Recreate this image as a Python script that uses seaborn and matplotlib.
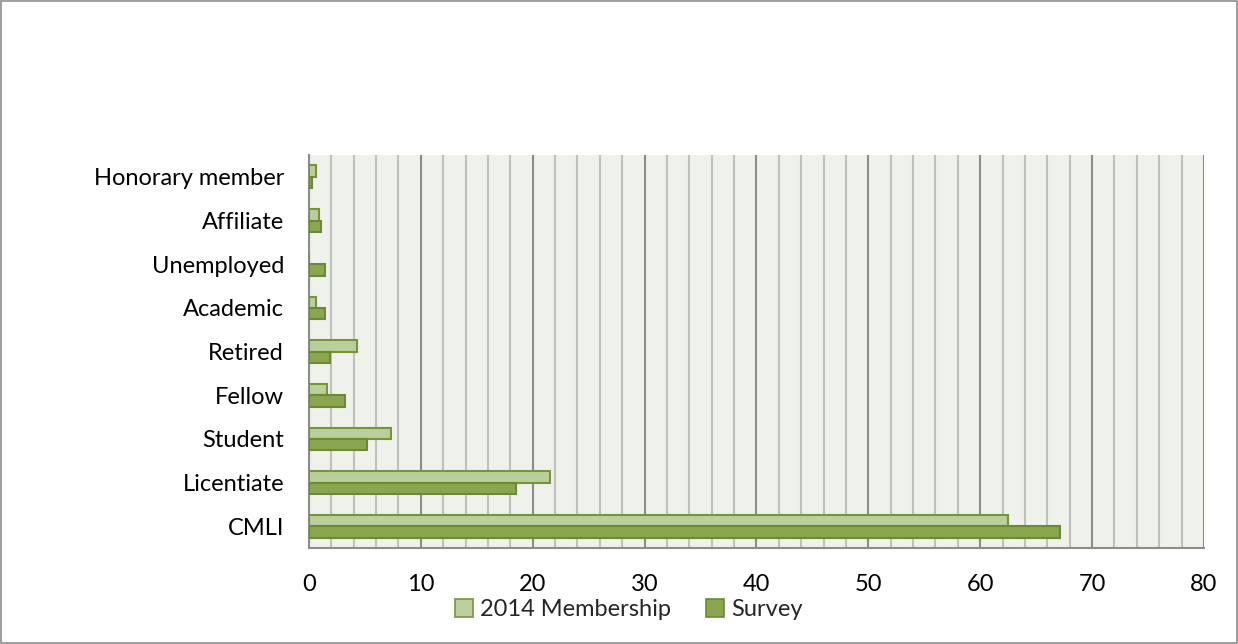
import matplotlib
matplotlib.use("Agg")
import matplotlib.pyplot as plt
import seaborn as sns
import pandas as pd
from matplotlib.ticker import MultipleLocator
from matplotlib.patches import Patch, Rectangle

categories = ["Honorary member", "Affiliate", "Unemployed", "Academic", "Retired",
              "Fellow", "Student", "Licentiate", "CMLI"]
membership_2014 = [0.6, 0.9, 0.0, 0.6, 4.3, 1.6, 7.3, 21.5, 62.5]
survey = [0.3, 1.1, 1.4, 1.4, 1.9, 3.2, 5.2, 18.5, 67.1]
series = ["2014 Membership", "Survey"]
xticks = [0, 10, 20, 30, 40, 50, 60, 70, 80]

df = pd.DataFrame({
    "category": categories * 2,
    "value": membership_2014 + survey,
    "series": [series[0]] * len(categories) + [series[1]] * len(categories),
})

sns.set_style("white")
plt.rcParams["font.family"] = ["Lato", "DejaVu Sans"]

fills = {series[0]: "#B9D09A", series[1]: "#8AA64E"}
edges = {series[0]: "#77933C", series[1]: "#6A8A33"}

fig = plt.figure(figsize=(12.38, 6.44), dpi=100)
ax = fig.add_axes([0.2496, 0.149, 0.7229, 0.6103])
ax.set_facecolor("#EFF2EA")

sns.barplot(data=df, y="category", x="value", hue="series", order=categories,
            hue_order=series, palette=fills, width=0.52, orient="h", ax=ax,
            legend=False, saturation=1, zorder=3)
for cont, s in zip(ax.containers, series):
    for bar in cont:
        bar.set_edgecolor(edges[s])
        bar.set_linewidth(1.5)

ax.set_xlim(0, 80)
ax.set_xticks(xticks)
ax.xaxis.set_minor_locator(MultipleLocator(2))
ax.grid(which="minor", axis="x", color="#C0C0C0", linewidth=1.5, zorder=0)
ax.grid(which="major", axis="x", color="#8C8C8C", linewidth=1.5, zorder=1)
ax.set_axisbelow(True)
ax.set_xlabel("")
ax.set_ylabel("")
ax.tick_params(axis="both", which="both", length=0, labelsize=17, colors="black")
ax.tick_params(axis="y", pad=18)
ax.tick_params(axis="x", pad=19)
for sp in ["top", "right"]:
    ax.spines[sp].set_visible(False)
for sp in ["left", "bottom"]:
    ax.spines[sp].set_color("#8C8C8C")
    ax.spines[sp].set_linewidth(1.5)

handles = [Patch(facecolor=fills[s], edgecolor=edges[s], linewidth=1.2) for s in series]
fig.legend(handles, series, loc="center", bbox_to_anchor=(0.508, 0.053), ncol=2,
           frameon=False, fontsize=17, handlelength=0.75, handleheight=0.75,
           handletextpad=0.3, columnspacing=1.5, borderpad=0)

fig.patches.append(Rectangle((0.0008, 0.0015), 0.9984, 0.997, transform=fig.transFigure,
                             fill=False, edgecolor="#8C8C8C", linewidth=1.2))

fig.savefig("out.png", dpi=100)
